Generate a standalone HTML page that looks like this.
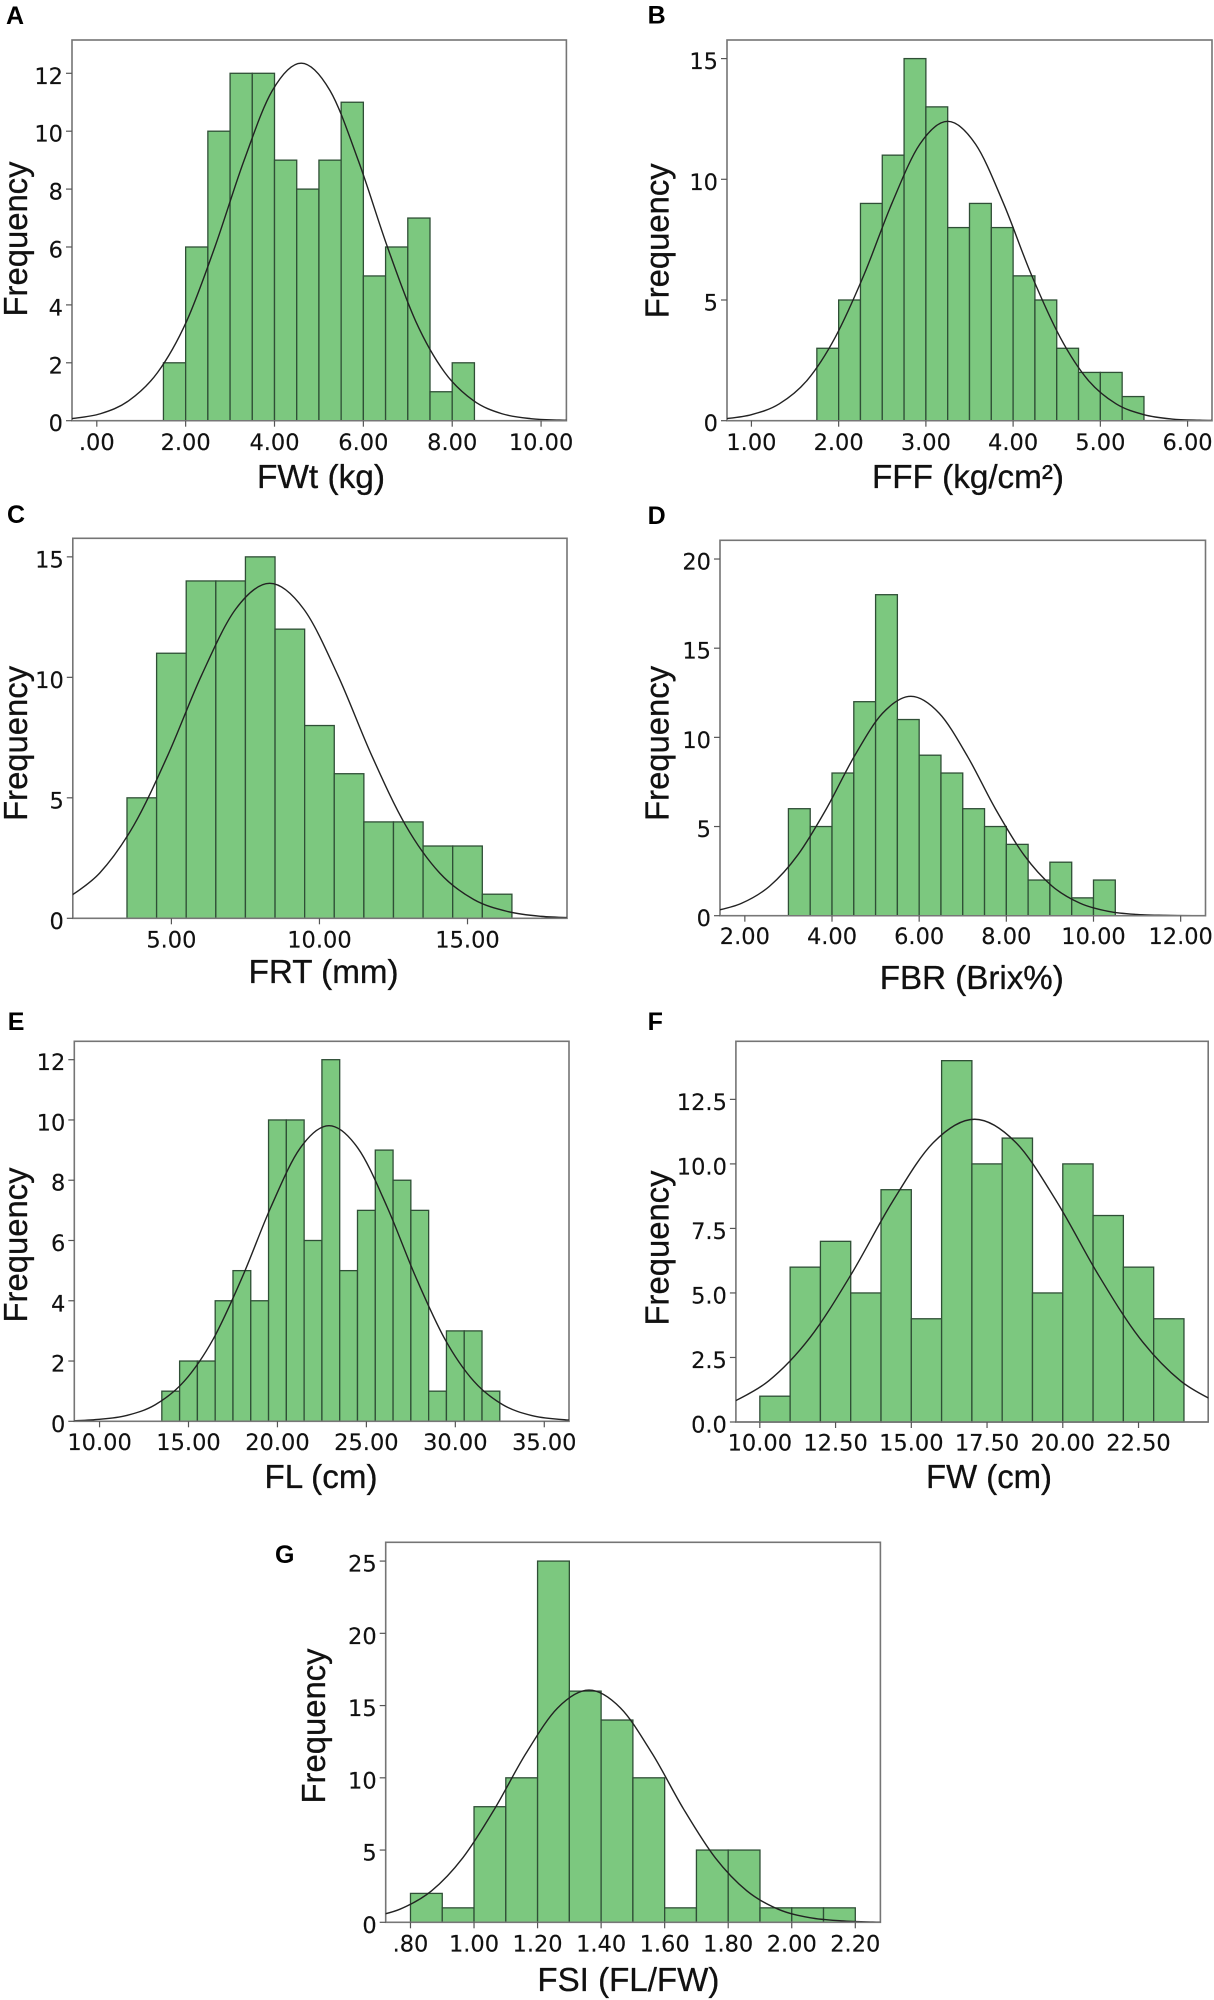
<!DOCTYPE html>
<html lang="en">
<head>
<meta charset="utf-8">
<title>Frequency histograms of fruit traits</title>
<style>
html,body{margin:0;padding:0;background:#fff;}
svg{display:block;}
.tick-label{font-family:"DejaVu Sans",sans-serif;font-size:22.5px;fill:#111;stroke:#111;stroke-width:0.15px;}
.axis-title{font-family:"Liberation Sans",sans-serif;font-size:33px;fill:#111;stroke:#111;stroke-width:0.3px;}
.panel-letter{font-family:"Liberation Sans",sans-serif;font-size:25px;font-weight:bold;fill:#000;}
</style>
</head>
<body>
<svg id="figure" xmlns="http://www.w3.org/2000/svg" width="1214" height="2000" viewBox="0 0 1214 2000">
  <rect x="0" y="0" width="1214" height="2000" fill="#ffffff"/>

  <g>
    <g id="marks-a"></g>
    <text class="panel-letter" x="6" y="24">A</text>
    <text class="axis-title" x="321" y="488" text-anchor="middle" textLength="128" lengthAdjust="spacingAndGlyphs">FWt (kg)</text>
    <text class="axis-title" transform="translate(27,239) rotate(-90)" text-anchor="middle" textLength="155" lengthAdjust="spacingAndGlyphs">Frequency</text>
  </g>

  <g>
    <g id="marks-b"></g>
    <text class="panel-letter" x="647.6" y="23.5">B</text>
    <text class="axis-title" x="968" y="488" text-anchor="middle" textLength="192" lengthAdjust="spacingAndGlyphs">FFF (kg/cm²)</text>
    <text class="axis-title" transform="translate(668.5,240.8) rotate(-90)" text-anchor="middle" textLength="155" lengthAdjust="spacingAndGlyphs">Frequency</text>
  </g>

  <g>
    <g id="marks-c"></g>
    <text class="panel-letter" x="7" y="523">C</text>
    <text class="axis-title" x="323.6" y="983" text-anchor="middle" textLength="150" lengthAdjust="spacingAndGlyphs">FRT (mm)</text>
    <text class="axis-title" transform="translate(27,743.4) rotate(-90)" text-anchor="middle" textLength="155" lengthAdjust="spacingAndGlyphs">Frequency</text>
  </g>

  <g>
    <g id="marks-d"></g>
    <text class="panel-letter" x="647.6" y="524">D</text>
    <text class="axis-title" x="971.8" y="989" text-anchor="middle" textLength="184" lengthAdjust="spacingAndGlyphs">FBR (Brix%)</text>
    <text class="axis-title" transform="translate(668.5,743.4) rotate(-90)" text-anchor="middle" textLength="155" lengthAdjust="spacingAndGlyphs">Frequency</text>
  </g>

  <g>
    <g id="marks-e"></g>
    <text class="panel-letter" x="7.7" y="1030">E</text>
    <text class="axis-title" x="321" y="1488" text-anchor="middle" textLength="113" lengthAdjust="spacingAndGlyphs">FL (cm)</text>
    <text class="axis-title" transform="translate(27,1245) rotate(-90)" text-anchor="middle" textLength="155" lengthAdjust="spacingAndGlyphs">Frequency</text>
  </g>

  <g>
    <g id="marks-f"></g>
    <text class="panel-letter" x="647.6" y="1030">F</text>
    <text class="axis-title" x="989" y="1488" text-anchor="middle" textLength="126" lengthAdjust="spacingAndGlyphs">FW (cm)</text>
    <text class="axis-title" transform="translate(668.5,1248) rotate(-90)" text-anchor="middle" textLength="155" lengthAdjust="spacingAndGlyphs">Frequency</text>
  </g>

  <g>
    <g id="marks-g"></g>
    <text class="panel-letter" x="275" y="1563">G</text>
    <text class="axis-title" x="628.4" y="1991" text-anchor="middle" textLength="182" lengthAdjust="spacingAndGlyphs">FSI (FL/FW)</text>
    <text class="axis-title" transform="translate(325,1726) rotate(-90)" text-anchor="middle" textLength="155" lengthAdjust="spacingAndGlyphs">Frequency</text>
  </g>
</svg>

<script>
// ---------- Panel A: FWt (kg) ----------
const aBinEdges = [1.5,2,2.5,3,3.5,4,4.5,5,5.5,6,6.5,7,7.5,8,8.5];
const aCounts = [2,6,10,12,12,9,8,9,11,5,6,7,1,2];
const aCurveX = [-0.57,0.08,0.72,1.37,2.02,2.66,3.31,3.95,4.6,5.25,5.89,6.54,7.18,7.83,8.48,9.12,9.77,10.41,11.06];
const aCurveY = [0.07,0.24,0.69,1.67,3.43,6.01,8.97,11.4,12.35,11.4,8.97,6.01,3.43,1.67,0.69,0.24,0.07,0.02,0];
const aXTicks = [0,2,4,6,8,10];
const aXTickLabels = [".00","2.00","4.00","6.00","8.00","10.00"];
const aYTicks = [0,2,4,6,8,10,12];
const aYTickLabels = ["0","2","4","6","8","10","12"];

// ---------- Panel B: FFF (kg/cm2) ----------
const bBinEdges = [1.75,2,2.25,2.5,2.75,3,3.25,3.5,3.75,4,4.25,4.5,4.75,5,5.25,5.5];
const bCounts = [3,5,9,11,15,13,8,9,8,6,5,3,2,2,1];
const bCurveX = [0.68,1,1.32,1.64,1.96,2.29,2.61,2.93,3.25,3.57,3.89,4.21,4.54,4.86,5.18,5.5,5.82,6.14,6.47];
const bCurveY = [0.07,0.25,0.7,1.68,3.45,6.04,9,11.45,12.4,11.45,9,6.04,3.45,1.68,0.7,0.25,0.07,0.02,0];
const bXTicks = [1,2,3,4,5,6];
const bXTickLabels = ["1.00","2.00","3.00","4.00","5.00","6.00"];
const bYTicks = [0,5,10,15];
const bYTickLabels = ["0","5","10","15"];

// ---------- Panel C: FRT (mm) ----------
const cBinEdges = [3.5,4.5,5.5,6.5,7.5,8.5,9.5,10.5,11.5,12.5,13.5,14.5,15.5,16.5];
const cCounts = [5,11,14,14,15,12,8,6,4,4,3,3,1];
const cCurveX = [1.43,2.58,3.73,4.88,6.02,7.17,8.32,9.47,10.62,11.76,12.91,14.06,15.21,16.36,17.5,18.65];
const cCurveY = [0.78,1.88,3.86,6.77,10.09,12.83,13.9,12.83,10.09,6.77,3.86,1.88,0.78,0.28,0.08,0.02];
const cXTicks = [5,10,15];
const cXTickLabels = ["5.00","10.00","15.00"];
const cYTicks = [0,5,10,15];
const cYTickLabels = ["0","5","10","15"];

// ---------- Panel D: FBR (Brix%) ----------
const dBinEdges = [3,3.5,4,4.5,5,5.5,6,6.5,7,7.5,8,8.5,9,9.5,10,10.5];
const dCounts = [6,5,8,12,18,11,9,8,6,5,4,2,3,1,2];
const dCurveX = [1.27,1.92,2.57,3.22,3.87,4.51,5.16,5.81,6.46,7.11,7.75,8.4,9.05,9.7,10.35,10.99,11.64,12.29,12.94];
const dCurveY = [0.24,0.69,1.66,3.42,5.99,8.93,11.35,12.3,11.35,8.93,5.99,3.42,1.66,0.69,0.24,0.07,0.02,0,0];
const dXTicks = [2,4,6,8,10,12];
const dXTickLabels = ["2.00","4.00","6.00","8.00","10.00","12.00"];
const dYTicks = [0,5,10,15,20];
const dYTickLabels = ["0","5","10","15","20"];

// ---------- Panel E: FL (cm) ----------
const eBinEdges = [13.5,14.5,15.5,16.5,17.5,18.5,19.5,20.5,21.5,22.5,23.5,24.5,25.5,26.5,27.5,28.5,29.5,30.5,31.5,32.5];
const eCounts = [1,2,2,4,5,4,10,10,6,12,5,7,9,8,7,1,3,3,1];
const eCurveX = [8.25,9.88,11.5,13.13,14.76,16.39,18.02,19.64,21.27,22.9,24.53,26.16,27.78,29.41,31.04,32.67,34.3,35.92,37.55];
const eCurveY = [0.01,0.06,0.19,0.55,1.33,2.73,4.78,7.12,9.06,9.81,9.06,7.12,4.78,2.73,1.33,0.55,0.19,0.06,0.01];
const eXTicks = [10,15,20,25,30,35];
const eXTickLabels = ["10.00","15.00","20.00","25.00","30.00","35.00"];
const eYTicks = [0,2,4,6,8,10,12];
const eYTickLabels = ["0","2","4","6","8","10","12"];

// ---------- Panel F: FW (cm) ----------
const fBinEdges = [10,11,12,13,14,15,16,17,18,19,20,21,22,23,24];
const fCounts = [1,6,7,5,9,4,14,10,11,5,10,8,6,4];
const fCurveX = [8.93,10.29,11.65,13.01,14.37,15.73,17.09,18.45,19.81,21.17,22.53,23.89,25.25];
const fCurveY = [0.66,1.59,3.26,5.71,8.52,10.83,11.73,10.83,8.52,5.71,3.26,1.59,0.66];
const fXTicks = [10,12.5,15,17.5,20,22.5];
const fXTickLabels = ["10.00","12.50","15.00","17.50","20.00","22.50"];
const fYTicks = [0,2.5,5,7.5,10,12.5];
const fYTickLabels = ["0.0","2.5","5.0","7.5","10.0","12.5"];

// ---------- Panel G: FSI (FL/FW) ----------
const gBinEdges = [0.8,0.9,1,1.1,1.2,1.3,1.4,1.5,1.6,1.7,1.8,1.9,2,2.1,2.2];
const gCounts = [2,1,8,10,25,16,14,10,1,5,5,1,1,1];
const gCurveX = [0.667,0.766,0.866,0.965,1.064,1.163,1.263,1.362,1.461,1.561,1.66,1.759,1.859,1.958,2.057,2.156,2.255,2.355];
const gCurveY = [0.32,0.9,2.17,4.47,7.82,11.67,14.83,16.07,14.83,11.67,7.82,4.47,2.17,0.9,0.32,0.1,0.02,0];
const gXTicks = [0.8,1,1.2,1.4,1.6,1.8,2,2.2];
const gXTickLabels = [".80","1.00","1.20","1.40","1.60","1.80","2.00","2.20"];
const gYTicks = [0,5,10,15,20,25];
const gYTickLabels = ["0","5","10","15","20","25"];

// ---------- Panel frames and axis ranges ----------
const frames = [
  {id:"a",L:72,R:566.4,T:40,B:420.7,xMin:-0.558,xMax:10.57,yMax:13.15,labelDy:29.3,edges:aBinEdges,counts:aCounts,cx:aCurveX,cy:aCurveY,xt:aXTicks,xl:aXTickLabels,yt:aYTicks,yl:aYTickLabels},
  {id:"b",L:727,R:1212,T:40,B:420.7,xMin:0.72,xMax:6.28,yMax:15.77,labelDy:29.3,edges:bBinEdges,counts:bCounts,cx:bCurveX,cy:bCurveY,xt:bXTicks,xl:bXTickLabels,yt:bYTicks,yl:bYTickLabels},
  {id:"c",L:72.8,R:567,T:538.3,B:918.3,xMin:1.67,xMax:18.36,yMax:15.77,labelDy:29,edges:cBinEdges,counts:cCounts,cx:cCurveX,cy:cCurveY,xt:cXTicks,xl:cXTickLabels,yt:cYTicks,yl:cYTickLabels},
  {id:"d",L:720,R:1205.5,T:540.3,B:915.7,xMin:1.43,xMax:12.57,yMax:21.05,labelDy:28.3,edges:dBinEdges,counts:dCounts,cx:dCurveX,cy:dCurveY,xt:dXTicks,xl:dXTickLabels,yt:dYTicks,yl:dYTickLabels},
  {id:"e",L:74.3,R:569,T:1041.3,B:1421.3,xMin:8.58,xMax:36.39,yMax:12.61,labelDy:28.7,edges:eBinEdges,counts:eCounts,cx:eCurveX,cy:eCurveY,xt:eXTicks,xl:eXTickLabels,yt:eYTicks,yl:eYTickLabels},
  {id:"f",L:735.9,R:1208.2,T:1041.3,B:1422,xMin:9.21,xMax:24.8,yMax:14.75,labelDy:28.7,edges:fBinEdges,counts:fCounts,cx:fCurveX,cy:fCurveY,xt:fXTicks,xl:fXTickLabels,yt:fYTicks,yl:fYTickLabels},
  {id:"g",L:385.7,R:880.4,T:1542.3,B:1922.3,xMin:0.722,xMax:2.279,yMax:26.3,labelDy:29.4,edges:gBinEdges,counts:gCounts,cx:gCurveX,cy:gCurveY,xt:gXTicks,xl:gXTickLabels,yt:gYTicks,yl:gYTickLabels}
];

const NS = "http://www.w3.org/2000/svg";
function make(tag, attrs) {
  const el = document.createElementNS(NS, tag);
  Object.keys(attrs).forEach(function (k) { el.setAttribute(k, attrs[k]); });
  return el;
}
function smoothPath(pts) {
  let d = "M" + pts[0][0].toFixed(2) + " " + pts[0][1].toFixed(2);
  for (let i = 0; i < pts.length - 1; i++) {
    const p0 = pts[Math.max(0, i - 1)], p1 = pts[i], p2 = pts[i + 1], p3 = pts[Math.min(pts.length - 1, i + 2)];
    const c1x = p1[0] + (p2[0] - p0[0]) / 6, c1y = p1[1] + (p2[1] - p0[1]) / 6;
    const c2x = p2[0] - (p3[0] - p1[0]) / 6, c2y = p2[1] - (p3[1] - p1[1]) / 6;
    d += "C" + c1x.toFixed(2) + " " + c1y.toFixed(2) + " " + c2x.toFixed(2) + " " + c2y.toFixed(2) + " " + p2[0].toFixed(2) + " " + p2[1].toFixed(2);
  }
  return d;
}

const figure = document.getElementById("figure");
const defs = make("defs", {});
figure.insertBefore(defs, figure.firstChild);

frames.forEach(function (p) {
  const g = document.getElementById("marks-" + p.id);
  const xScale = function (v) { return p.L + (v - p.xMin) / (p.xMax - p.xMin) * (p.R - p.L); };
  const yScale = function (v) { return p.B - v / p.yMax * (p.B - p.T); };

  const clip = make("clipPath", {id: "clip-" + p.id});
  clip.appendChild(make("rect", {x: p.L, y: p.T, width: p.R - p.L, height: p.B - p.T}));
  defs.appendChild(clip);

  const frame = make("rect", {x: p.L, y: p.T, width: p.R - p.L, height: p.B - p.T, fill: "#fff", stroke: "#757575", "stroke-width": 1.6});
  
  
  g.appendChild(frame);

  p.counts.forEach(function (c, i) {
    const x0 = xScale(p.edges[i]), x1 = xScale(p.edges[i + 1]), y = yScale(c);
    const bar = make("rect", {x: x0, y: y, width: x1 - x0, height: p.B - y, fill: "#7cc87f", stroke: "#2f4f36", "stroke-width": 1.3});
    
    
    g.appendChild(bar);
  });

  const pts = p.cx.map(function (v, i) { return [xScale(v), yScale(p.cy[i])]; });
  const curve = make("path", {d: smoothPath(pts), fill: "none", stroke: "#222", "stroke-width": 1.4, "clip-path": "url(#clip-" + p.id + ")"});
  
  
  g.appendChild(curve);

  const baseline = make("line", {x1: p.L, x2: p.R, y1: p.B, y2: p.B, stroke: "#777", "stroke-width": 1.5});
  
  
  g.appendChild(baseline);

  p.xt.forEach(function (v, i) {
    const x = xScale(v);
    const tick = make("line", {x1: x, x2: x, y1: p.B, y2: p.B + 6, stroke: "#555", "stroke-width": 1.2});
    
    
    g.appendChild(tick);
    const label = make("text", {x: x, y: p.B + p.labelDy, "text-anchor": "middle", "class": "tick-label"});
    
    
    label.textContent = p.xl[i];
    g.appendChild(label);
  });

  p.yt.forEach(function (v, i) {
    const y = yScale(v);
    const tick = make("line", {x1: p.L - 6, x2: p.L, y1: y, y2: y, stroke: "#555", "stroke-width": 1.2});
    
    
    g.appendChild(tick);
    const label = make("text", {x: p.L - 9, y: y + 10.5, "text-anchor": "end", "class": "tick-label"});
    
    
    label.textContent = p.yl[i];
    g.appendChild(label);
  });
});
</script>
</body>
</html>
